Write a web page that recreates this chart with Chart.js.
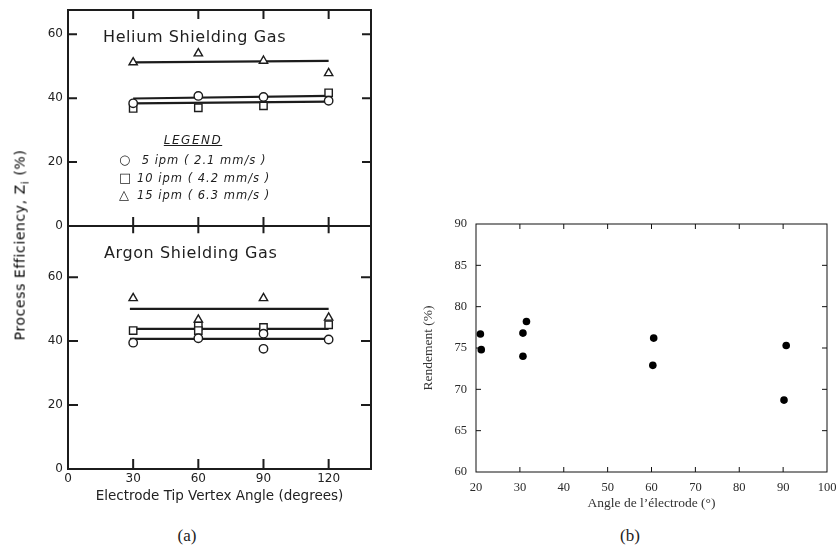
<!DOCTYPE html>
<html>
<head>
<meta charset="utf-8">
<script src="https://cdn.jsdelivr.net/npm/chart.js@4.4.1/dist/chart.umd.min.js"></script>
<style>
    html, body { margin: 0; padding: 0; background: #fff; }
    #page { position: relative; width: 840px; height: 547px; overflow: hidden; background: #fff; }
    canvas { position: absolute; }
    .lbl { position: absolute; white-space: nowrap; color: #1e1e1e; font-family: 'DejaVu Sans', sans-serif; }
    .gas { font-size: 16px; letter-spacing: 0.6px; transform: translateY(-50%); }
    .ytitle { font-size: 14px; letter-spacing: 0.6px; color: #000; transform: translate(-50%, -50%) rotate(-90deg); }
    .ytitle sub { font-size: 10px; }
    .leg-head { font-size: 12px; font-style: italic; letter-spacing: 1.5px; text-decoration: underline; transform: translate(-50%, -50%); }
    .leg-row { font-size: 11.5px; font-style: italic; letter-spacing: 1px; transform: translateY(-50%); }
    .leg-row .mk { display: inline-block; width: 18px; font-style: normal; font-size: 13px; }
    .cap { font-family: 'Liberation Serif', serif; font-size: 17px; color: #222; transform: translate(-50%, -50%); }
</style>
</head>
<body>
<div id="page">
    <canvas id="heChart" width="387" height="248" style="left:0;top:-6px;width:387px;height:248px"></canvas>
    <canvas id="arChart" width="387" height="299" style="left:0;top:210px;width:387px;height:299px"></canvas>
    <canvas id="bChart" width="437" height="310" style="left:410px;top:204px;width:437px;height:310px"></canvas>

    <div class="lbl ytitle" style="left:21px;top:245px">Process Efficiency, Z<sub>i</sub> (%)</div>
    <div class="lbl gas" style="left:103px;top:36px">Helium Shielding Gas</div>
    <div class="lbl gas" style="left:104px;top:252px">Argon Shielding Gas</div>

    <div class="lbl leg-head" style="left:193px;top:140px">LEGEND</div>
    <div class="lbl leg-row" style="left:119px;top:159px"><span class="mk">○</span> 5 ipm ( 2.1 mm/s )</div>
    <div class="lbl leg-row" style="left:119px;top:177px"><span class="mk">□</span>10 ipm ( 4.2 mm/s )</div>
    <div class="lbl leg-row" style="left:119px;top:194px"><span class="mk">△</span>15 ipm ( 6.3 mm/s )</div>

    <div class="lbl cap" style="left:187px;top:536px">(a)</div>
    <div class="lbl cap" style="left:630px;top:536px">(b)</div>
</div>

<script>
// (a) process efficiency vs electrode tip angle
const angleTicksA = [0, 30, 60, 90, 120];
const effTicksA = [0, 20, 40, 60];

// helium
const heAngles = [30, 60, 90, 120];
const he5ipm = [38.4, 40.7, 40.4, 39.2];
const he10ipm = [36.8, 37.0, 37.6, 41.7];
const he15ipm = [51.2, 54.0, 51.7, 47.8];
const heFitAngles = [30, 120];
const he5Fit = [39.9, 40.7];
const he10Fit = [38.4, 38.9];
const he15Fit = [51.2, 51.7];

// argon
const ar5Angles = [30, 60, 90, 90, 120];
const ar5ipm = [39.5, 40.9, 42.3, 37.6, 40.5];
const ar10Angles = [30, 60, 60, 90, 120];
const ar10ipm = [43.3, 44.7, 43.3, 44.3, 45.1];
const ar15Angles = [30, 60, 90, 120];
const ar15ipm = [53.4, 46.7, 53.4, 47.3];
const arFitAngles = [28.5, 120];
const ar5Fit = [40.7, 40.7];
const ar10Fit = [43.8, 43.8];
const ar15Fit = [50.1, 50.1];

// (b) rendement vs angle de l'electrode
const angleTicksB = [20, 30, 40, 50, 60, 70, 80, 90, 100];
const rendTicksB = [60, 65, 70, 75, 80, 85, 90];
const angleB = [21.0, 21.2, 30.7, 30.7, 31.5, 60.5, 60.3, 90.7, 90.2];
const rendB = [76.7, 74.8, 76.8, 74.0, 78.2, 76.2, 72.9, 75.3, 68.7];

const INK = '#1c1c1c';
Chart.defaults.font.family = "'DejaVu Sans', sans-serif";
Chart.defaults.color = '#222';

function pts(xs, ys) {
    return xs.map((x, i) => ({ x: x, y: ys[i] }));
}

function markers(xs, ys, style, r) {
    return {
        data: pts(xs, ys),
        pointStyle: style,
        pointRadius: r,
        borderColor: INK,
        backgroundColor: '#fff',
        pointBorderWidth: 1.4,
        showLine: false
    };
}

function fitLine(xs, ys) {
    return {
        data: pts(xs, ys),
        showLine: true,
        pointRadius: 0,
        borderColor: INK,
        borderWidth: 2.2
    };
}

function useTicks(arr) {
    return scale => { scale.ticks = arr.map(v => ({ value: v })); };
}

// frame with inward tick marks
const framePlugin = {
    id: 'frame',
    beforeDatasetsDraw(chart, args, o) {
        const { ctx, chartArea: a, scales } = chart;
        ctx.save();
        ctx.strokeStyle = o.color;
        ctx.lineWidth = o.width;
        ctx.strokeRect(a.left, a.top, a.right - a.left, a.bottom - a.top);
        ctx.beginPath();
        o.xTicks.forEach(v => {
            const px = scales.x.getPixelForValue(v);
            if (px <= a.left + 1 || px >= a.right - 1) return;
            if (o.top) { ctx.moveTo(px, a.top); ctx.lineTo(px, a.top + o.len); }
            if (o.bottom) {
                ctx.moveTo(px, a.bottom + (o.cross ? o.len * 0.8 : 0));
                ctx.lineTo(px, a.bottom - o.len);
            }
        });
        o.yTicks.forEach(v => {
            const py = scales.y.getPixelForValue(v);
            if (py <= a.top + 1 || py >= a.bottom - 1) return;
            if (o.left) { ctx.moveTo(a.left, py); ctx.lineTo(a.left + o.len, py); }
            if (o.right) { ctx.moveTo(a.right, py); ctx.lineTo(a.right - o.len, py); }
        });
        ctx.stroke();
        ctx.restore();
    }
};

const baseOpts = {
    responsive: false,
    maintainAspectRatio: false,
    animation: false,
    devicePixelRatio: 1,
    events: []
};

// Helium (top half of panel a)
new Chart(document.getElementById('heChart'), {
    type: 'scatter',
    data: {
        datasets: [
            markers(heAngles, he5ipm, 'circle', 4.2),
            markers(heAngles, he10ipm, 'rect', 5.2),
            markers(heAngles, he15ipm, 'triangle', 4.8),
            fitLine(heFitAngles, he5Fit),
            fitLine(heFitAngles, he10Fit),
            fitLine(heFitAngles, he15Fit)
        ]
    },
    options: Object.assign({}, baseOpts, {
        layout: { padding: { top: 16, bottom: 16, left: 0, right: 16 } },
        scales: {
            x: { type: 'linear', min: 0, max: 139.5, display: false },
            y: {
                type: 'linear', min: 0, max: 67.6,
                grid: { display: false, drawTicks: false },
                border: { display: false },
                afterBuildTicks: useTicks(effTicksA),
                afterFit: s => { s.width = 68; },
                ticks: { padding: 5, font: { size: 12 } }
            }
        },
        plugins: {
            legend: { display: false },
            tooltip: { enabled: false },
            frame: { color: INK, width: 2, len: 9, xTicks: angleTicksA, yTicks: effTicksA,
                     top: true, bottom: true, cross: true, left: true, right: true }
        }
    }),
    plugins: [framePlugin]
});

// Argon (bottom half of panel a)
new Chart(document.getElementById('arChart'), {
    type: 'scatter',
    data: {
        datasets: [
            markers(ar5Angles, ar5ipm, 'circle', 4.2),
            markers(ar10Angles, ar10ipm, 'rect', 5.2),
            markers(ar15Angles, ar15ipm, 'triangle', 4.8),
            fitLine(arFitAngles, ar5Fit),
            fitLine(arFitAngles, ar10Fit),
            fitLine(arFitAngles, ar15Fit)
        ]
    },
    options: Object.assign({}, baseOpts, {
        layout: { padding: { top: 16, bottom: 0, left: 0, right: 16 } },
        scales: {
            x: {
                type: 'linear', min: 0, max: 139.5,
                grid: { display: false, drawTicks: false },
                border: { display: false },
                afterBuildTicks: useTicks(angleTicksA),
                afterFit: s => { s.height = 40; },
                ticks: { padding: 3, maxRotation: 0, font: { size: 12 } },
                title: { display: true, text: 'Electrode Tip Vertex Angle (degrees)',
                         font: { size: 13.5 }, padding: { top: 2, bottom: 4 } }
            },
            y: {
                type: 'linear', min: 0, max: 76,
                grid: { display: false, drawTicks: false },
                border: { display: false },
                afterBuildTicks: useTicks(effTicksA),
                afterFit: s => { s.width = 68; },
                ticks: { padding: 5, font: { size: 12 } }
            }
        },
        plugins: {
            legend: { display: false },
            tooltip: { enabled: false },
            frame: { color: INK, width: 2, len: 10, xTicks: angleTicksA, yTicks: effTicksA,
                     top: false, bottom: true, cross: false, left: true, right: true }
        }
    }),
    plugins: [framePlugin]
});

// panel (b)
const serif = "'Liberation Serif', 'DejaVu Serif', serif";
new Chart(document.getElementById('bChart'), {
    type: 'scatter',
    data: {
        datasets: [{
            data: pts(angleB, rendB),
            pointRadius: 3.8,
            pointStyle: 'circle',
            backgroundColor: '#000',
            borderColor: '#000',
            pointBorderWidth: 0
        }]
    },
    options: Object.assign({}, baseOpts, {
        layout: { padding: { top: 20, bottom: 0, left: 0, right: 20 } },
        scales: {
            x: {
                type: 'linear', min: 20, max: 100,
                grid: { display: false, drawTicks: false },
                border: { display: false },
                afterBuildTicks: useTicks(angleTicksB),
                afterFit: s => { s.height = 42; },
                ticks: { padding: 8, maxRotation: 0, color: '#2a2a2a', font: { family: serif, size: 12.5 } },
                title: { display: true, text: 'Angle de l’électrode (°)', color: '#333',
                         font: { family: serif, size: 13.5 }, padding: { top: 2, bottom: 2 } }
            },
            y: {
                type: 'linear', min: 60, max: 90,
                grid: { display: false, drawTicks: false },
                border: { display: false },
                afterBuildTicks: useTicks(rendTicksB),
                afterFit: s => { s.width = 66; },
                ticks: { padding: 9, color: '#2a2a2a', font: { family: serif, size: 12.5 } },
                title: { display: true, text: 'Rendement (%)', color: '#333',
                         font: { family: serif, size: 13.5 }, padding: { top: 10, bottom: 0 } }
            }
        },
        plugins: {
            legend: { display: false },
            tooltip: { enabled: false },
            frame: { color: '#111', width: 1, len: 5, xTicks: angleTicksB, yTicks: rendTicksB,
                     top: true, bottom: true, cross: false, left: true, right: true }
        }
    }),
    plugins: [framePlugin]
});
</script>
</body>
</html>
